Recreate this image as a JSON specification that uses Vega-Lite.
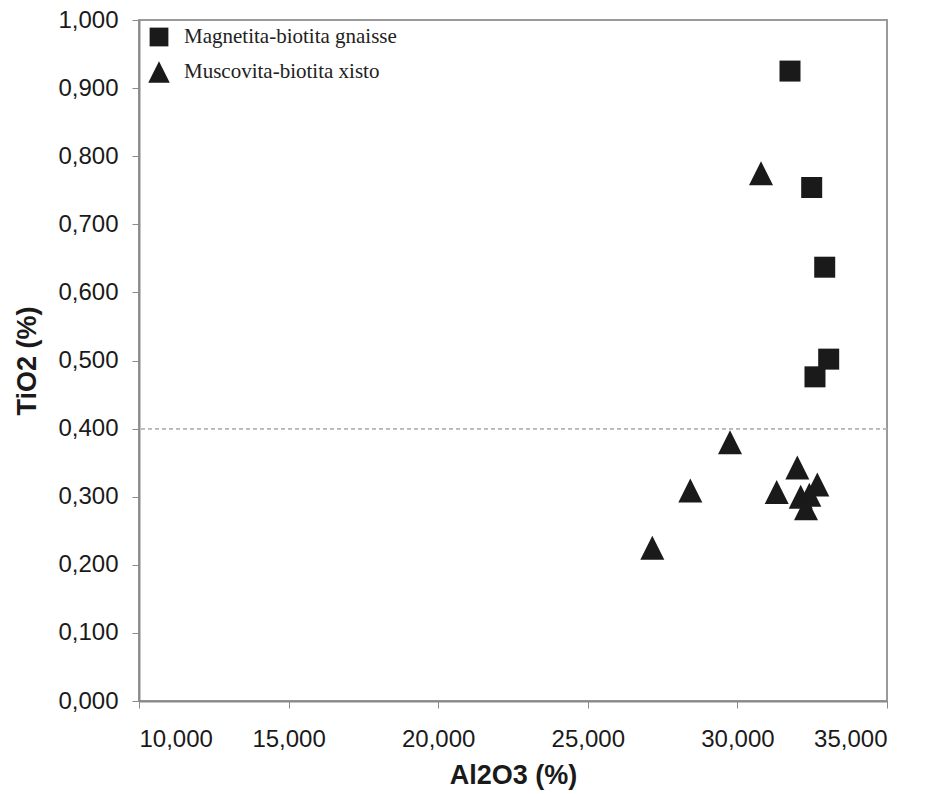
{
  "$schema": "https://vega.github.io/schema/vega-lite/v6.json",
  "width": 748,
  "height": 681,
  "autosize": {"type": "none"},
  "padding": {"left": 139, "top": 20, "right": 43, "bottom": 93},
  "background": "white",
  "config": {
    "locale": {"number": {"decimal": ",", "thousands": ".", "grouping": [3], "currency": ["", ""]}},
    "view": {"stroke": "#9a9a9a", "strokeWidth": 2},
    "axis": {
      "grid": false,
      "domainColor": "#8a8a8a",
      "domainWidth": 2,
      "tickColor": "#8a8a8a",
      "tickWidth": 1,
      "tickSize": 7,
      "labelFont": "Liberation Sans",
      "labelFontSize": 24,
      "labelColor": "#1a1a1a",
      "titleFont": "Liberation Sans",
      "titleFontSize": 27,
      "titleFontWeight": "bold",
      "titleColor": "#1a1a1a"
    }
  },
  "data": {
    "values": [
      {"Al2O3": 31.758, "TiO2": 0.925, "rocha": "Magnetita-biotita gnaisse"},
      {"Al2O3": 32.483, "TiO2": 0.754, "rocha": "Magnetita-biotita gnaisse"},
      {"Al2O3": 32.918, "TiO2": 0.637, "rocha": "Magnetita-biotita gnaisse"},
      {"Al2O3": 33.051, "TiO2": 0.502, "rocha": "Magnetita-biotita gnaisse"},
      {"Al2O3": 32.593, "TiO2": 0.476, "rocha": "Magnetita-biotita gnaisse"},
      {"Al2O3": 30.789, "TiO2": 0.775, "rocha": "Muscovita-biotita xisto"},
      {"Al2O3": 29.752, "TiO2": 0.380, "rocha": "Muscovita-biotita xisto"},
      {"Al2O3": 32.002, "TiO2": 0.343, "rocha": "Muscovita-biotita xisto"},
      {"Al2O3": 32.670, "TiO2": 0.318, "rocha": "Muscovita-biotita xisto"},
      {"Al2O3": 28.426, "TiO2": 0.309, "rocha": "Muscovita-biotita xisto"},
      {"Al2O3": 31.313, "TiO2": 0.307, "rocha": "Muscovita-biotita xisto"},
      {"Al2O3": 32.115, "TiO2": 0.300, "rocha": "Muscovita-biotita xisto"},
      {"Al2O3": 32.403, "TiO2": 0.303, "rocha": "Muscovita-biotita xisto"},
      {"Al2O3": 32.292, "TiO2": 0.283, "rocha": "Muscovita-biotita xisto"},
      {"Al2O3": 27.156, "TiO2": 0.225, "rocha": "Muscovita-biotita xisto"}
    ]
  },
  "layer": [
    {
      "mark": {"type": "rule", "color": "#b8b8b8", "strokeDash": [4, 3], "strokeWidth": 1},
      "encoding": {"y": {"datum": 0.4}}
    },
    {
      "mark": {"type": "point", "filled": true, "opacity": 1, "size": 576, "strokeWidth": 0},
      "encoding": {
        "x": {
          "field": "Al2O3", "type": "quantitative",
          "scale": {"domain": [10, 35], "nice": false, "zero": false},
          "axis": {"values": [10, 15, 20, 25, 30, 35], "format": ".3f", "labelPadding": 19, "title": "Al2O3 (%)", "titlePadding": 11}
        },
        "y": {
          "field": "TiO2", "type": "quantitative",
          "scale": {"domain": [0, 1], "nice": false},
          "axis": {"values": [0, 0.1, 0.2, 0.3, 0.4, 0.5, 0.6, 0.7, 0.8, 0.9, 1], "format": ".3f", "labelPadding": 14, "title": "TiO2 (%)", "titlePadding": 16}
        },
        "shape": {
          "field": "rocha", "type": "nominal",
          "scale": {
            "domain": ["Magnetita-biotita gnaisse", "Muscovita-biotita xisto"],
            "range": ["M-0.875,-0.875L0.875,-0.875L0.875,0.875L-0.875,0.875Z", "M-1,1L1,1L0,-1Z"]
          },
          "legend": {
            "title": null,
            "orient": "none",
            "legendX": 9,
            "legendY": 6,
            "padding": 0,
            "symbolSize": 460,
            "symbolFillColor": "#1a1a1a",
            "symbolStrokeWidth": 0,
            "symbolType": "circle",
            "labelFont": "Liberation Serif",
            "labelFontSize": 21,
            "labelColor": "#222222",
            "labelOffset": 14,
            "labelLimit": 500,
            "rowPadding": 14
          }
        },
        "color": {"value": "#1a1a1a"}
      }
    }
  ]
}
